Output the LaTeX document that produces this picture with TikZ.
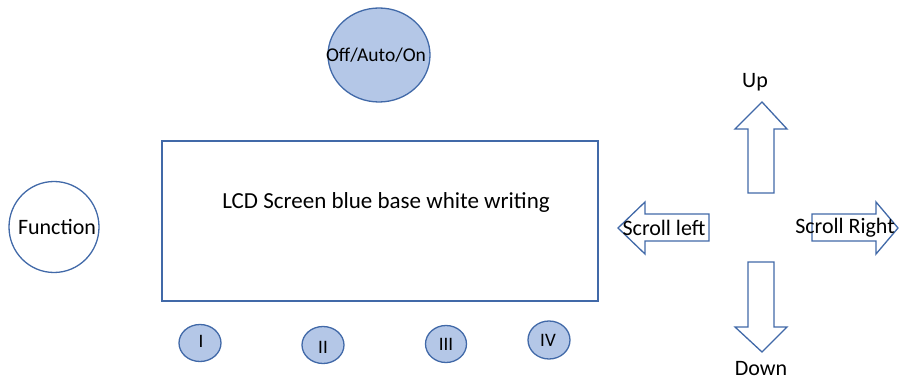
\documentclass[tikz,border=0pt]{standalone}
\usepackage{fontspec}
\setmainfont{Carlito}
\definecolor{edge}{HTML}{4169A8}
\definecolor{fillb}{HTML}{B4C7E7}
\tikzset{
  btn/.style={ellipse, draw=edge, line width=1.3pt, fill=fillb, inner sep=0pt},
  lbl/.style={font=\fontsize{22}{26}\selectfont, inner sep=0pt},
  numlbl/.style={font=\fontsize{19}{22}\selectfont, inner sep=0pt},
  arrowshape/.style={draw=edge, line width=1.3pt, fill=white, line join=miter}
}
\usetikzlibrary{shapes.geometric}
\begin{document}
\begin{tikzpicture}[x=1pt,y=-1pt]
\useasboundingbox (0,0) rectangle (901,382);
% Off/Auto/On
\node[btn, minimum width=102pt, minimum height=94pt] (oao) at (379,55) {};
\node[lbl, font=\fontsize{19.5}{23}\selectfont] (oaot) at (376,55) {Off/Auto/On};
% Function
\node[ellipse, draw=edge, line width=1.3pt, minimum width=90pt, minimum height=91pt] (fn) at (54,227) {};
\node[lbl] (fnt) at (57,227) {Function};
% LCD
\draw[draw=edge, line width=1.3pt] (162,141) rectangle (598,301);
\node[inner sep=0pt, font=\fontsize{23}{27}\selectfont] (lcd) at (386,202) {LCD Screen blue base white writing};
% small buttons
\node[btn, minimum width=42pt, minimum height=37pt] (b1) at (200,343) {};
\node[numlbl] at (201,341) {I};
\node[btn, minimum width=42pt, minimum height=37pt] (b2) at (323,345) {};
\node[numlbl] at (323,347) {II};
\node[btn, minimum width=41pt, minimum height=37pt] (b3) at (446,344) {};
\node[numlbl] at (446,344) {III};
\node[btn, minimum width=42pt, minimum height=38pt] (b4) at (549,340) {};
\node[numlbl] at (548,340) {IV};
% arrows
\draw[arrowshape] (762,102) -- (787,129) -- (774,129) -- (774,193) -- (748,193) -- (748,129) -- (735,129) -- cycle;
\draw[arrowshape] (762,352) -- (787,327) -- (774,327) -- (774,262) -- (748,262) -- (748,327) -- (735,327) -- cycle;
\draw[arrowshape] (618,228) -- (645,202) -- (645,214) -- (709,214) -- (709,241) -- (645,241) -- (645,254) -- cycle;
\draw[arrowshape] (898,228) -- (876,202) -- (876,214) -- (812,214) -- (812,241) -- (876,241) -- (876,254) -- cycle;
\node[lbl] (up) at (755,82) {Up};
\node[lbl] (down) at (761,369) {Down};
\node[lbl] (sl) at (664,228) {Scroll left};
\node[lbl] (sr) at (845,228) {Scroll Right};
\end{tikzpicture}
\end{document}
